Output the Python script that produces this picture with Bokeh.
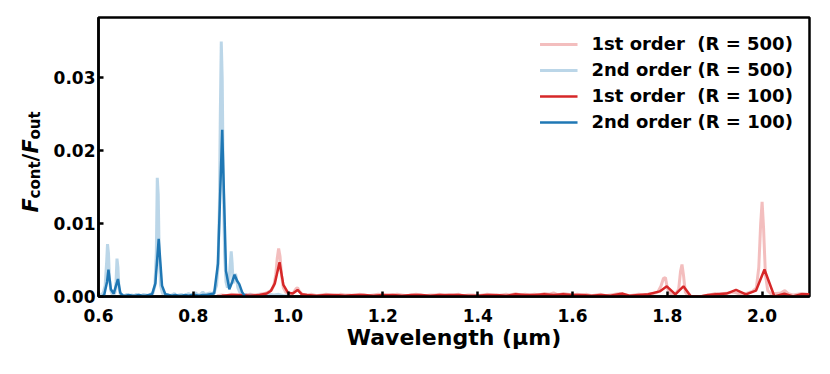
import numpy as np
from bokeh.plotting import figure
from bokeh.layouts import row
from bokeh.models import Range1d, FixedTicker, Label, Legend, LegendItem
from bokeh.embed import file_html
from bokeh.resources import INLINE

# ---------------- data ----------------
# 1st order, R = 500 (light red)
r500_x = [0.850, 0.860, 0.870, 0.880, 0.890, 0.900, 0.910, 0.920, 0.930, 0.940,
          0.950, 0.958, 0.965, 0.970, 0.974, 0.977, 0.980, 0.983, 0.986, 0.990,
          0.995, 1.000, 1.006, 1.012, 1.017, 1.020, 1.024, 1.030, 1.040, 1.050,
          1.060, 1.070, 1.080, 1.090, 1.100, 1.110, 1.120, 1.130, 1.140, 1.150,
          1.160, 1.170, 1.180, 1.190, 1.200, 1.210, 1.220, 1.230, 1.240, 1.250,
          1.260, 1.270, 1.280, 1.290, 1.300, 1.310, 1.320, 1.330, 1.340, 1.350,
          1.360, 1.370, 1.380, 1.390, 1.400, 1.410, 1.420, 1.430, 1.440, 1.450,
          1.460, 1.470, 1.480, 1.490, 1.500, 1.510, 1.520, 1.530, 1.540, 1.550,
          1.560, 1.570, 1.580, 1.590, 1.600, 1.610, 1.620, 1.630, 1.640, 1.650,
          1.660, 1.670, 1.680, 1.690, 1.700, 1.710, 1.720, 1.730, 1.740, 1.750,
          1.760, 1.770, 1.780, 1.787, 1.792, 1.796, 1.800, 1.806, 1.812, 1.818,
          1.824, 1.828, 1.831, 1.834, 1.838, 1.843, 1.850, 1.860, 1.870, 1.880,
          1.890, 1.900, 1.910, 1.920, 1.930, 1.940, 1.950, 1.960, 1.970, 1.980,
          1.988, 1.993, 1.997, 2.000, 2.003, 2.007, 2.012, 2.020, 2.030, 2.040,
          2.048, 2.055, 2.065, 2.075, 2.085, 2.095, 2.100]
r500_y = [0.0001, 0.0002, 0.0001, 0.0003, 0.0002, 0.0001, 0.0002, 0.0003, 0.0002, 0.0003,
          0.0004, 0.0006, 0.0009, 0.0015, 0.0030, 0.0052, 0.0066, 0.0055, 0.0030, 0.0012,
          0.0006, 0.0004, 0.0003, 0.0006, 0.0011, 0.0012, 0.0007, 0.0003, 0.0002, 0.0003,
          0.0001, 0.0002, 0.0003, 0.0002, 0.0001, 0.0003, 0.0002, 0.0002, 0.0001, 0.0003,
          0.0002, 0.0001, 0.0002, 0.0003, 0.0002, 0.0001, 0.0002, 0.0003, 0.0002, 0.0001,
          0.0002, 0.0003, 0.0002, 0.0001, 0.0002, 0.0002, 0.0003, 0.0001, 0.0002, 0.0002,
          0.0003, 0.0001, 0.0002, 0.0002, 0.0001, 0.0002, 0.0003, 0.0002, 0.0001, 0.0002,
          0.0003, 0.0002, 0.0004, 0.0002, 0.0003, 0.0002, 0.0003, 0.0002, 0.0004, 0.0003,
          0.0005, 0.0002, 0.0004, 0.0003, 0.0002, 0.0003, 0.0002, 0.0003, 0.0001, 0.0002,
          0.0003, 0.0001, 0.0002, 0.0003, 0.0004, 0.0002, 0.0001, 0.0002, 0.0003, 0.0002,
          0.0003, 0.0004, 0.0006, 0.0015, 0.0025, 0.0026, 0.0012, 0.0004, 0.0003, 0.0004,
          0.0010, 0.0035, 0.0044, 0.0030, 0.0006, 0.0002, 0.0000, 0.0000, 0.0000, 0.0001,
          0.0002, 0.0004, 0.0003, 0.0004, 0.0005, 0.0006, 0.0004, 0.0003, 0.0005, 0.0007,
          0.0012, 0.0040, 0.0100, 0.0130, 0.0095, 0.0030, 0.0008, 0.0003, 0.0004, 0.0005,
          0.0008, 0.0004, 0.0002, 0.0003, 0.0004, 0.0003, 0.0002]

# 2nd order, R = 500 (light blue)
b500_x = [0.600, 0.605, 0.610, 0.614, 0.617, 0.619, 0.621, 0.623, 0.626, 0.629,
          0.632, 0.635, 0.637, 0.639, 0.641, 0.643, 0.646, 0.650, 0.655, 0.660,
          0.665, 0.670, 0.675, 0.680, 0.685, 0.690, 0.695, 0.700, 0.705, 0.710,
          0.715, 0.719, 0.722, 0.724, 0.726, 0.728, 0.731, 0.735, 0.740, 0.745,
          0.750, 0.755, 0.760, 0.765, 0.770, 0.775, 0.780, 0.785, 0.790, 0.795,
          0.800, 0.805, 0.810, 0.815, 0.820, 0.825, 0.830, 0.835, 0.840, 0.845,
          0.849, 0.852, 0.855, 0.857, 0.859, 0.861, 0.863, 0.866, 0.869, 0.872,
          0.875, 0.878, 0.880, 0.882, 0.884, 0.887, 0.889, 0.891, 0.894, 0.898,
          0.902, 0.906, 0.910, 0.915, 0.920, 0.930, 0.940, 0.950, 0.960, 0.970,
          0.980, 0.990, 1.000]
b500_y = [0.0000, 0.0002, 0.0005, 0.0015, 0.0045, 0.0072, 0.0060, 0.0025, 0.0008, 0.0003,
          0.0002, 0.0006, 0.0020, 0.0052, 0.0040, 0.0012, 0.0003, 0.0002, 0.0001, 0.0003,
          0.0001, 0.0002, 0.0001, 0.0003, 0.0002, 0.0001, 0.0003, 0.0002, 0.0001, 0.0003,
          0.0005, 0.0015, 0.0060, 0.0163, 0.0140, 0.0060, 0.0015, 0.0004, 0.0002, 0.0003,
          0.0001, 0.0002, 0.0004, 0.0001, 0.0002, 0.0003, 0.0001, 0.0002, 0.0004, 0.0002,
          0.0003, 0.0005, 0.0002, 0.0003, 0.0006, 0.0003, 0.0004, 0.0005, 0.0004, 0.0007,
          0.0015, 0.0040, 0.0120, 0.0250, 0.0350, 0.0300, 0.0170, 0.0060, 0.0020, 0.0012,
          0.0020, 0.0045, 0.0062, 0.0045, 0.0018, 0.0025, 0.0031, 0.0025, 0.0012, 0.0006,
          0.0004, 0.0002, 0.0003, 0.0001, 0.0002, 0.0001, 0.0002, 0.0001, 0.0003, 0.0002,
          0.0003, 0.0001, 0.0001]

# 1st order, R = 100 (red)
r100_x = [0.860, 0.880, 0.900, 0.920, 0.940, 0.955, 0.964, 0.972, 0.982, 0.990,
          1.000, 1.010, 1.020, 1.029, 1.040, 1.060, 1.080, 1.100, 1.120, 1.140,
          1.160, 1.180, 1.200, 1.220, 1.240, 1.260, 1.280, 1.300, 1.320, 1.340,
          1.360, 1.380, 1.400, 1.420, 1.440, 1.460, 1.480, 1.500, 1.520, 1.540,
          1.560, 1.580, 1.600, 1.620, 1.640, 1.660, 1.680, 1.706, 1.720, 1.740,
          1.760, 1.784, 1.799, 1.817, 1.834, 1.850, 1.860, 1.870, 1.885, 1.903,
          1.925, 1.945, 1.966, 1.987, 2.005, 2.026, 2.047, 2.065, 2.083, 2.100]
r100_y = [0.0001, 0.0002, 0.0002, 0.0001, 0.0002, 0.0004, 0.0008, 0.0018, 0.0047, 0.0016,
          0.0005, 0.0004, 0.0009, 0.0003, 0.0002, 0.0001, 0.0002, 0.0002, 0.0001, 0.0002,
          0.0002, 0.0001, 0.0002, 0.0002, 0.0001, 0.0002, 0.0002, 0.0001, 0.0002, 0.0002,
          0.0002, 0.0001, 0.0001, 0.0002, 0.0002, 0.0001, 0.0003, 0.0002, 0.0002, 0.0003,
          0.0002, 0.0003, 0.0002, 0.0002, 0.0001, 0.0002, 0.0001, 0.0004, 0.0001, 0.0002,
          0.0003, 0.0007, 0.0014, 0.0003, 0.0014, 0.0000, 0.0000, 0.0000, 0.0002, 0.0003,
          0.0004, 0.0009, 0.0003, 0.0008, 0.0037, 0.0000, 0.0004, 0.0000, 0.0003, 0.0003]

# 2nd order, R = 100 (blue)
b100_x = [0.606, 0.612, 0.618, 0.621, 0.626, 0.632, 0.637, 0.641, 0.646, 0.652,
          0.658, 0.664, 0.671, 0.678, 0.685, 0.692, 0.699, 0.706, 0.713, 0.720,
          0.727, 0.734, 0.741, 0.748, 0.755, 0.762, 0.769, 0.776, 0.783, 0.790,
          0.797, 0.804, 0.812, 0.820, 0.828, 0.836, 0.844, 0.852, 0.861, 0.869,
          0.876, 0.882, 0.887, 0.892, 0.897, 0.903, 0.909]
b100_y = [0.0000, 0.0002, 0.0020, 0.0037, 0.0010, 0.0004, 0.0015, 0.0024, 0.0005, 0.0001,
          0.0001, 0.0002, 0.0001, 0.0001, 0.0002, 0.0001, 0.0001, 0.0002, 0.0003, 0.0018,
          0.0079, 0.0015, 0.0003, 0.0002, 0.0001, 0.0002, 0.0001, 0.0001, 0.0002, 0.0001,
          0.0002, 0.0002, 0.0001, 0.0002, 0.0002, 0.0003, 0.0004, 0.0045, 0.0229, 0.0035,
          0.0010, 0.0020, 0.0030, 0.0022, 0.0017, 0.0006, 0.0000]

series_labels = ["1st order  (R = 500)", "2nd order (R = 500)",
                 "1st order  (R = 100)", "2nd order (R = 100)"]

x_ticks = [0.6, 0.8, 1.0, 1.2, 1.4, 1.6, 1.8, 2.0]
x_tick_labels = ["0.6", "0.8", "1.0", "1.2", "1.4", "1.6", "1.8", "2.0"]
y_ticks = [0.0, 0.01, 0.02, 0.03]
y_tick_labels = ["0.00", "0.01", "0.02", "0.03"]
y_label_parts = ["F", "cont", "/", "F", "out"]

X_MIN, X_MAX = 0.6, 2.1
Y_MIN, Y_MAX = 0.0, 0.0383

# ---------------- layout constants ----------------
FONT = "DejaVu Sans"
WL = 50                       # width of the strip that holds the y label
FW, FH = 711, 279
ML, MT, MR, MB = 48, 17, 12, 56

# ---------------- main figure ----------------
p = figure(output_backend="svg", toolbar_location=None,
           frame_width=FW, frame_height=FH,
           x_range=Range1d(X_MIN, X_MAX), y_range=Range1d(Y_MIN, Y_MAX),
           min_border_left=ML, min_border_top=MT, min_border_right=MR,
           min_border_bottom=MB)
p.grid.visible = False
p.outline_line_color = "black"
p.outline_line_width = 2.5
p.outline_line_alpha = 1.0
p.background_fill_color = "white"
p.border_fill_color = "white"

for ax in (p.xaxis[0], p.yaxis[0]):
    ax.axis_line_width = 2.5
    ax.axis_line_color = "black"
    ax.major_tick_in = 5
    ax.major_tick_out = 0
    ax.major_tick_line_width = 2.5
    ax.minor_tick_line_color = None
    ax.major_label_text_font = FONT
    ax.major_label_text_font_style = "bold"
    ax.major_label_text_font_size = "17px"
    ax.major_label_text_color = "black"

p.xaxis.ticker = FixedTicker(ticks=x_ticks)
p.xaxis.major_label_overrides = {t: l for t, l in zip(x_ticks, x_tick_labels)}
p.yaxis.ticker = FixedTicker(ticks=y_ticks)
p.yaxis.major_label_overrides = {t: l for t, l in zip(y_ticks, y_tick_labels)}
p.xaxis.major_label_standoff = 12
p.yaxis.major_label_standoff = 3

p.xaxis.axis_label = "Wavelength (\u03bcm)"
p.xaxis.axis_label_text_font = FONT
p.xaxis.axis_label_text_font_style = "bold"
p.xaxis.axis_label_text_font_size = "22px"
p.xaxis.axis_label_text_color = "black"
p.xaxis.axis_label_standoff = 0

RED = "#d62728"
BLUE = "#1f77b4"
l1 = p.line(r500_x, r500_y, line_color=RED, line_alpha=0.3, line_width=3)
l2 = p.line(b500_x, b500_y, line_color=BLUE, line_alpha=0.3, line_width=3)
l3 = p.line(r100_x, r100_y, line_color=RED, line_width=2.5)
l4 = p.line(b100_x, b100_y, line_color=BLUE, line_width=2.5)

legend = Legend(items=[LegendItem(label=series_labels[0], renderers=[l1]),
                       LegendItem(label=series_labels[1], renderers=[l2]),
                       LegendItem(label=series_labels[2], renderers=[l3]),
                       LegendItem(label=series_labels[3], renderers=[l4])],
                location="top_right")
legend.border_line_alpha = 0
legend.background_fill_alpha = 0
legend.label_text_font = FONT
legend.label_text_font_style = "bold"
legend.label_text_font_size = "18px"
legend.label_text_color = "black"
legend.glyph_width = 38
legend.glyph_height = 20
legend.label_height = 20
legend.label_standoff = 14
legend.spacing = 5
legend.padding = 14
legend.margin = 2
p.add_layout(legend)

# ---------------- y-axis label strip (F_cont / F_out) ----------------
H_L = MT + FH + MB
q = figure(output_backend="svg", toolbar_location=None,
           frame_width=WL, frame_height=H_L,
           x_range=Range1d(0, WL), y_range=Range1d(H_L, 0),
           x_axis_location=None, y_axis_location=None,
           min_border=0)
q.grid.visible = False
q.outline_line_color = None
q.background_fill_color = "white"
q.border_fill_color = "white"

MAIN, SUB = "21px", "15px"
# (size, style, position along the label from the bottom [px in strip], baseline x [px])
piece_fmt = [(MAIN, "bold italic", 195, 30),
             (SUB, "bold", 181, 34),
             (MAIN, "bold", 144, 30),
             (MAIN, "bold italic", 136, 30),
             (SUB, "bold", 122, 34)]
for txt, (size, style, ypos, xb) in zip(y_label_parts, piece_fmt):
    q.add_layout(Label(x=xb, y=ypos, text=txt, angle=np.pi / 2,
                       text_font=FONT, text_font_style=style, text_font_size=size,
                       text_align="left", text_baseline="alphabetic",
                       text_color="black"))

layout = row(q, p, spacing=0)
open("out.html", "w").write(file_html(layout, INLINE))
